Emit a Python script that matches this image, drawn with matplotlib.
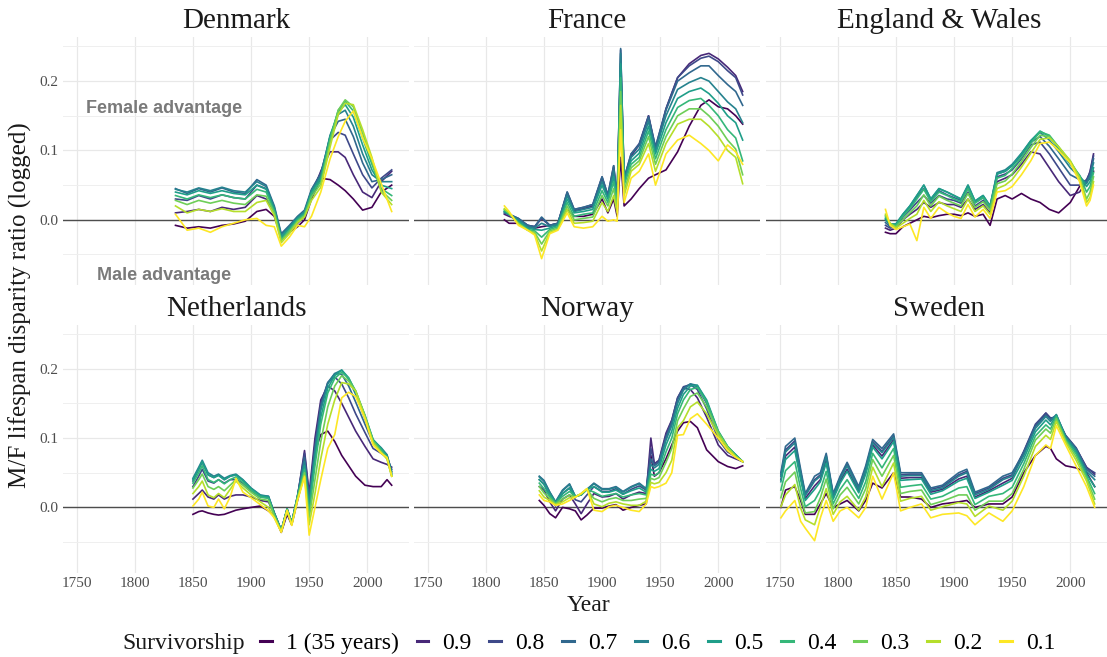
import numpy as np
import matplotlib.pyplot as plt
from matplotlib.lines import Line2D

plt.rcParams['font.family'] = ['Liberation Serif', 'DejaVu Serif']

surv_labels = ['1 (35 years)', '0.9', '0.8', '0.7', '0.6', '0.5', '0.4', '0.3', '0.2', '0.1']
countries = ['Denmark', 'France', 'England & Wales', 'Netherlands', 'Norway', 'Sweden']

# rows follow surv_labels: 1, 0.9, ..., 0.1
dk_years = [1835, 1845, 1855, 1865, 1875, 1885, 1895, 1905, 1913, 1920, 1926, 1933,
            1940, 1946, 1952, 1960, 1968, 1975, 1981, 1988, 1996, 2004, 2012, 2021]
dk_vals = [
    [-0.008, -0.012, -0.010, -0.012, -0.008, -0.006, -0.002, 0.012, 0.015, 0.005, -0.025, -0.018, -0.010, 0.000, 0.030, 0.060, 0.058, 0.050, 0.042, 0.030, 0.014, 0.018, 0.040, 0.050],
    [0.010, 0.012, 0.015, 0.012, 0.018, 0.015, 0.018, 0.035, 0.030, 0.012, -0.028, -0.018, -0.005, 0.005, 0.035, 0.070, 0.098, 0.098, 0.090, 0.065, 0.040, 0.032, 0.055, 0.070],
    [0.030, 0.028, 0.035, 0.030, 0.036, 0.032, 0.030, 0.050, 0.045, 0.016, -0.025, -0.012, 0.002, 0.010, 0.042, 0.068, 0.115, 0.126, 0.122, 0.095, 0.065, 0.046, 0.060, 0.072],
    [0.045, 0.038, 0.045, 0.040, 0.046, 0.040, 0.038, 0.058, 0.050, 0.020, -0.020, -0.008, 0.005, 0.014, 0.044, 0.066, 0.120, 0.142, 0.145, 0.120, 0.082, 0.055, 0.058, 0.065],
    [0.044, 0.040, 0.046, 0.042, 0.047, 0.042, 0.040, 0.055, 0.048, 0.018, -0.022, -0.010, 0.004, 0.012, 0.042, 0.063, 0.122, 0.152, 0.158, 0.135, 0.095, 0.065, 0.055, 0.055],
    [0.040, 0.036, 0.042, 0.038, 0.042, 0.038, 0.036, 0.050, 0.044, 0.015, -0.025, -0.012, 0.002, 0.010, 0.040, 0.060, 0.120, 0.156, 0.166, 0.148, 0.108, 0.072, 0.050, 0.045],
    [0.035, 0.030, 0.036, 0.032, 0.036, 0.032, 0.030, 0.044, 0.040, 0.012, -0.028, -0.015, 0.000, 0.008, 0.037, 0.056, 0.117, 0.158, 0.171, 0.157, 0.118, 0.080, 0.045, 0.035],
    [0.028, 0.022, 0.028, 0.024, 0.028, 0.024, 0.022, 0.036, 0.034, 0.010, -0.030, -0.017, -0.002, 0.006, 0.033, 0.052, 0.112, 0.158, 0.173, 0.163, 0.125, 0.085, 0.042, 0.028],
    [0.020, 0.010, 0.015, 0.012, 0.016, 0.012, 0.012, 0.025, 0.028, 0.006, -0.033, -0.020, -0.004, 0.004, 0.028, 0.047, 0.105, 0.152, 0.168, 0.166, 0.130, 0.090, 0.040, 0.022],
    [0.008, -0.015, -0.012, -0.018, -0.010, -0.005, 0.000, 0.002, -0.008, -0.010, -0.038, -0.025, -0.008, -0.010, 0.005, 0.040, 0.088, 0.120, 0.142, 0.157, 0.118, 0.088, 0.052, 0.012],
]

fr_years = [1816, 1820, 1828, 1836, 1842, 1848, 1855, 1862, 1870, 1876, 1884, 1892, 1900, 1905, 1910, 1913,
            1916, 1919, 1925, 1932, 1940, 1946, 1955, 1965, 1975, 1985, 1992, 2000, 2008, 2015, 2021]
fr_vals = [
    [0.000, -0.005, -0.005, -0.010, -0.012, -0.010, -0.008, -0.008, 0.015, 0.005, 0.005, 0.008, 0.030, 0.010, 0.030, 0.005, 0.090, 0.020, 0.030, 0.045, 0.060, 0.065, 0.072, 0.098, 0.135, 0.165, 0.173, 0.163, 0.160, 0.150, 0.138],
    [0.008, 0.005, 0.000, -0.008, -0.010, 0.002, -0.008, -0.005, 0.038, 0.013, 0.016, 0.020, 0.060, 0.032, 0.075, 0.028, 0.225, 0.055, 0.092, 0.108, 0.150, 0.100, 0.160, 0.205, 0.225, 0.237, 0.240, 0.232, 0.220, 0.208, 0.185],
    [0.010, 0.008, 0.002, -0.008, -0.010, 0.003, -0.008, -0.005, 0.040, 0.015, 0.018, 0.022, 0.062, 0.035, 0.078, 0.030, 0.245, 0.060, 0.095, 0.110, 0.150, 0.105, 0.160, 0.205, 0.222, 0.233, 0.236, 0.228, 0.215, 0.205, 0.180],
    [0.010, 0.008, 0.002, -0.008, -0.010, 0.004, -0.008, -0.005, 0.040, 0.015, 0.018, 0.022, 0.062, 0.036, 0.078, 0.030, 0.247, 0.060, 0.095, 0.108, 0.148, 0.105, 0.158, 0.200, 0.212, 0.222, 0.222, 0.208, 0.195, 0.185, 0.165],
    [0.012, 0.008, 0.000, -0.010, -0.012, -0.005, -0.010, -0.006, 0.035, 0.012, 0.015, 0.018, 0.055, 0.032, 0.070, 0.028, 0.240, 0.058, 0.090, 0.102, 0.142, 0.100, 0.150, 0.188, 0.198, 0.205, 0.200, 0.185, 0.170, 0.160, 0.140],
    [0.012, 0.008, -0.002, -0.012, -0.014, -0.015, -0.012, -0.008, 0.030, 0.010, 0.012, 0.015, 0.050, 0.030, 0.062, 0.025, 0.225, 0.055, 0.085, 0.096, 0.135, 0.095, 0.140, 0.175, 0.185, 0.190, 0.182, 0.168, 0.150, 0.140, 0.115],
    [0.014, 0.008, -0.004, -0.014, -0.016, -0.025, -0.014, -0.010, 0.025, 0.005, 0.008, 0.010, 0.042, 0.025, 0.055, 0.020, 0.205, 0.050, 0.080, 0.090, 0.128, 0.088, 0.130, 0.162, 0.172, 0.175, 0.165, 0.150, 0.130, 0.118, 0.085],
    [0.015, 0.010, -0.005, -0.015, -0.018, -0.035, -0.016, -0.012, 0.020, 0.000, 0.002, 0.004, 0.035, 0.020, 0.045, 0.015, 0.185, 0.042, 0.075, 0.085, 0.120, 0.080, 0.120, 0.150, 0.160, 0.160, 0.150, 0.135, 0.115, 0.102, 0.065],
    [0.016, 0.010, -0.006, -0.015, -0.020, -0.045, -0.018, -0.014, 0.015, -0.005, -0.004, -0.002, 0.025, 0.012, 0.035, 0.010, 0.165, 0.035, 0.070, 0.080, 0.110, 0.070, 0.110, 0.138, 0.145, 0.145, 0.135, 0.120, 0.100, 0.090, 0.052],
    [0.020, 0.012, -0.008, -0.015, -0.022, -0.056, -0.020, -0.015, 0.010, -0.010, -0.012, -0.010, 0.005, -0.002, 0.000, -0.002, 0.130, 0.025, 0.060, 0.070, 0.095, 0.050, 0.095, 0.115, 0.122, 0.110, 0.100, 0.085, 0.108, 0.098, 0.080],
]

ew_years = [1841, 1845, 1850, 1856, 1862, 1868, 1874, 1880, 1887, 1894, 1900, 1906, 1912, 1918, 1925,
            1931, 1937, 1944, 1950, 1958, 1966, 1974, 1982, 1990, 2000, 2008, 2014, 2017, 2020]
ew_vals = [
    [-0.018, -0.020, -0.020, -0.010, -0.005, 0.000, 0.005, 0.003, 0.006, 0.008, 0.008, 0.006, 0.010, 0.005, 0.008, -0.008, 0.030, 0.035, 0.030, 0.038, 0.030, 0.025, 0.015, 0.010, 0.025, 0.048, 0.055, 0.060, 0.070],
    [-0.012, -0.015, -0.012, 0.000, 0.008, 0.015, 0.025, 0.018, 0.025, 0.022, 0.022, 0.018, 0.030, 0.015, 0.022, 0.010, 0.055, 0.060, 0.065, 0.080, 0.098, 0.095, 0.075, 0.055, 0.035, 0.040, 0.055, 0.070, 0.095],
    [-0.008, -0.012, -0.010, 0.004, 0.014, 0.025, 0.035, 0.024, 0.035, 0.030, 0.028, 0.024, 0.040, 0.020, 0.028, 0.015, 0.062, 0.066, 0.072, 0.088, 0.108, 0.112, 0.095, 0.075, 0.050, 0.050, 0.058, 0.068, 0.092],
    [-0.004, -0.010, -0.008, 0.006, 0.018, 0.032, 0.045, 0.028, 0.042, 0.036, 0.032, 0.028, 0.046, 0.025, 0.032, 0.018, 0.066, 0.070, 0.078, 0.093, 0.112, 0.120, 0.106, 0.088, 0.065, 0.058, 0.055, 0.065, 0.088],
    [0.000, -0.008, -0.006, 0.008, 0.020, 0.035, 0.050, 0.030, 0.045, 0.040, 0.035, 0.030, 0.050, 0.027, 0.035, 0.020, 0.068, 0.072, 0.080, 0.096, 0.114, 0.126, 0.115, 0.098, 0.075, 0.062, 0.052, 0.062, 0.082],
    [0.002, -0.006, -0.006, 0.008, 0.020, 0.035, 0.050, 0.030, 0.045, 0.040, 0.035, 0.030, 0.050, 0.027, 0.035, 0.020, 0.066, 0.070, 0.078, 0.095, 0.114, 0.128, 0.120, 0.102, 0.080, 0.064, 0.048, 0.055, 0.075],
    [0.004, -0.006, -0.008, 0.005, 0.016, 0.030, 0.044, 0.026, 0.040, 0.035, 0.030, 0.026, 0.045, 0.024, 0.032, 0.018, 0.060, 0.064, 0.074, 0.090, 0.110, 0.127, 0.122, 0.105, 0.083, 0.064, 0.040, 0.048, 0.068],
    [0.006, -0.006, -0.010, 0.000, 0.010, 0.020, 0.036, 0.020, 0.034, 0.028, 0.024, 0.020, 0.038, 0.018, 0.026, 0.014, 0.052, 0.056, 0.066, 0.084, 0.104, 0.122, 0.120, 0.105, 0.085, 0.062, 0.030, 0.040, 0.062],
    [0.008, -0.005, -0.012, -0.005, 0.002, 0.008, 0.028, 0.012, 0.026, 0.020, 0.016, 0.012, 0.030, 0.012, 0.020, 0.008, 0.045, 0.050, 0.058, 0.076, 0.096, 0.116, 0.118, 0.105, 0.085, 0.060, 0.025, 0.032, 0.055],
    [0.015, -0.008, -0.014, -0.010, -0.006, -0.030, 0.018, 0.002, 0.018, 0.010, 0.005, 0.002, 0.022, 0.004, 0.015, 0.002, 0.040, 0.042, 0.048, 0.065, 0.085, 0.110, 0.112, 0.100, 0.082, 0.055, 0.020, 0.028, 0.050],
]

nl_years = [1850, 1855, 1858, 1863, 1868, 1872, 1877, 1882, 1887, 1893, 1900, 1908, 1915, 1920, 1926, 1931,
            1935, 1940, 1946, 1950, 1955, 1960, 1966, 1972, 1978, 1984, 1990, 1998, 2005, 2012, 2017, 2021]
nl_vals = [
    [-0.010, -0.006, -0.005, -0.008, -0.010, -0.011, -0.010, -0.007, -0.004, -0.002, 0.000, 0.002, -0.005, -0.012, -0.036, -0.010, -0.025, 0.010, 0.050, 0.005, 0.080, 0.105, 0.110, 0.095, 0.075, 0.060, 0.045, 0.032, 0.030, 0.030, 0.040, 0.032],
    [0.012, 0.020, 0.025, 0.015, 0.012, 0.018, 0.012, 0.016, 0.018, 0.018, 0.015, 0.010, 0.008, -0.010, -0.034, -0.004, -0.023, 0.015, 0.082, 0.020, 0.100, 0.155, 0.175, 0.168, 0.150, 0.130, 0.110, 0.088, 0.070, 0.065, 0.062, 0.058],
    [0.030, 0.045, 0.055, 0.038, 0.035, 0.040, 0.035, 0.040, 0.040, 0.035, 0.024, 0.015, 0.014, -0.008, -0.033, -0.003, -0.022, 0.016, 0.078, 0.015, 0.090, 0.150, 0.180, 0.188, 0.178, 0.158, 0.135, 0.108, 0.085, 0.078, 0.072, 0.055],
    [0.038, 0.055, 0.065, 0.047, 0.043, 0.047, 0.040, 0.045, 0.047, 0.039, 0.027, 0.017, 0.016, -0.008, -0.033, -0.002, -0.022, 0.017, 0.072, 0.010, 0.085, 0.145, 0.180, 0.193, 0.192, 0.175, 0.152, 0.120, 0.093, 0.084, 0.075, 0.052],
    [0.042, 0.058, 0.068, 0.050, 0.045, 0.048, 0.042, 0.046, 0.048, 0.040, 0.028, 0.018, 0.016, -0.008, -0.033, -0.002, -0.022, 0.017, 0.066, 0.005, 0.080, 0.140, 0.178, 0.193, 0.198, 0.185, 0.163, 0.128, 0.097, 0.086, 0.076, 0.050],
    [0.040, 0.055, 0.066, 0.047, 0.043, 0.046, 0.040, 0.045, 0.047, 0.039, 0.027, 0.017, 0.015, -0.009, -0.033, -0.002, -0.022, 0.016, 0.060, 0.000, 0.070, 0.130, 0.172, 0.190, 0.198, 0.187, 0.166, 0.132, 0.098, 0.085, 0.074, 0.048],
    [0.035, 0.050, 0.060, 0.040, 0.036, 0.040, 0.034, 0.040, 0.044, 0.036, 0.025, 0.015, 0.013, -0.010, -0.034, -0.003, -0.023, 0.015, 0.055, -0.008, 0.060, 0.120, 0.165, 0.186, 0.195, 0.186, 0.168, 0.133, 0.097, 0.083, 0.072, 0.046],
    [0.028, 0.040, 0.048, 0.030, 0.026, 0.030, 0.024, 0.032, 0.040, 0.032, 0.022, 0.012, 0.010, -0.012, -0.034, -0.004, -0.024, 0.014, 0.050, -0.015, 0.040, 0.095, 0.145, 0.175, 0.190, 0.182, 0.168, 0.132, 0.095, 0.080, 0.070, 0.045],
    [0.020, 0.030, 0.038, 0.018, 0.014, 0.020, 0.014, 0.026, 0.038, 0.028, 0.018, 0.008, 0.000, -0.015, -0.035, -0.005, -0.025, 0.012, 0.046, -0.025, 0.020, 0.070, 0.120, 0.155, 0.180, 0.178, 0.168, 0.130, 0.093, 0.079, 0.070, 0.045],
    [0.002, 0.012, 0.022, 0.002, 0.000, 0.012, -0.002, 0.015, 0.042, 0.022, 0.014, 0.004, -0.005, -0.015, -0.036, -0.004, -0.026, 0.010, 0.044, -0.040, 0.000, 0.040, 0.085, 0.105, 0.158, 0.166, 0.160, 0.128, 0.090, 0.078, 0.072, 0.045],
]

no_years = [1846, 1850, 1855, 1860, 1866, 1872, 1877, 1882, 1887, 1893, 1900, 1906, 1912, 1918, 1925, 1932,
            1938, 1942, 1945, 1949, 1955, 1960, 1965, 1970, 1976, 1982, 1990, 2000, 2008, 2015, 2021]
no_vals = [
    [0.010, 0.003, -0.009, -0.015, 0.000, -0.002, -0.005, -0.018, -0.011, -0.001, -0.001, 0.002, 0.004, -0.004, 0.000, 0.003, 0.005, 0.075, 0.045, 0.050, 0.070, 0.090, 0.110, 0.122, 0.124, 0.115, 0.083, 0.066, 0.059, 0.056, 0.060],
    [0.030, 0.025, 0.008, -0.005, 0.012, 0.018, 0.005, -0.009, 0.005, 0.020, 0.015, 0.016, 0.020, 0.012, 0.018, 0.022, 0.020, 0.100, 0.063, 0.068, 0.107, 0.126, 0.158, 0.172, 0.170, 0.158, 0.130, 0.090, 0.075, 0.070, 0.066],
    [0.040, 0.034, 0.016, 0.002, 0.020, 0.028, 0.011, 0.008, 0.018, 0.030, 0.023, 0.023, 0.027, 0.019, 0.026, 0.031, 0.025, 0.085, 0.062, 0.067, 0.104, 0.125, 0.158, 0.174, 0.177, 0.170, 0.142, 0.098, 0.080, 0.073, 0.066],
    [0.045, 0.039, 0.022, 0.008, 0.025, 0.034, 0.016, 0.018, 0.026, 0.035, 0.027, 0.027, 0.030, 0.023, 0.030, 0.035, 0.027, 0.070, 0.060, 0.065, 0.100, 0.122, 0.155, 0.172, 0.178, 0.174, 0.150, 0.105, 0.085, 0.075, 0.066],
    [0.044, 0.038, 0.022, 0.008, 0.024, 0.033, 0.016, 0.018, 0.026, 0.034, 0.026, 0.026, 0.029, 0.022, 0.029, 0.034, 0.026, 0.062, 0.057, 0.062, 0.097, 0.118, 0.150, 0.169, 0.178, 0.176, 0.153, 0.108, 0.087, 0.076, 0.066],
    [0.040, 0.033, 0.019, 0.007, 0.020, 0.028, 0.016, 0.018, 0.026, 0.030, 0.022, 0.022, 0.025, 0.019, 0.024, 0.028, 0.022, 0.055, 0.052, 0.056, 0.090, 0.110, 0.143, 0.163, 0.175, 0.176, 0.155, 0.110, 0.088, 0.076, 0.066],
    [0.035, 0.027, 0.016, 0.006, 0.016, 0.023, 0.016, 0.019, 0.026, 0.022, 0.016, 0.018, 0.020, 0.015, 0.018, 0.020, 0.018, 0.048, 0.046, 0.050, 0.080, 0.100, 0.135, 0.155, 0.170, 0.173, 0.152, 0.110, 0.088, 0.075, 0.066],
    [0.030, 0.021, 0.013, 0.005, 0.012, 0.018, 0.015, 0.019, 0.026, 0.013, 0.008, 0.012, 0.014, 0.010, 0.010, 0.012, 0.013, 0.042, 0.040, 0.043, 0.065, 0.085, 0.125, 0.142, 0.160, 0.165, 0.145, 0.108, 0.087, 0.074, 0.066],
    [0.024, 0.015, 0.010, 0.004, 0.008, 0.014, 0.015, 0.020, 0.027, 0.005, 0.001, 0.006, 0.008, 0.005, 0.003, 0.003, 0.009, 0.036, 0.034, 0.036, 0.050, 0.068, 0.115, 0.125, 0.145, 0.152, 0.135, 0.104, 0.086, 0.073, 0.066],
    [0.018, 0.010, 0.008, 0.003, 0.005, 0.010, 0.015, 0.020, 0.027, -0.004, -0.006, 0.001, 0.003, 0.000, -0.004, -0.006, 0.005, 0.030, 0.028, 0.030, 0.035, 0.050, 0.104, 0.105, 0.128, 0.135, 0.120, 0.100, 0.082, 0.072, 0.066],
]

se_years = [1751, 1755, 1763, 1768, 1772, 1780, 1785, 1790, 1796, 1802, 1808, 1818, 1824, 1830, 1838, 1848, 1854, 1862,
            1872, 1880, 1890, 1904, 1911, 1918, 1930, 1942, 1950, 1960, 1970, 1979, 1983, 1988, 1996, 2005, 2014, 2021]
se_vals = [
    [0.000, 0.025, 0.030, 0.010, -0.010, -0.010, 0.005, 0.020, 0.000, 0.005, 0.010, -0.005, 0.010, 0.035, 0.028, 0.050, 0.015, 0.015, 0.012, 0.000, 0.005, 0.008, 0.010, 0.000, 0.005, 0.005, 0.015, 0.050, 0.075, 0.088, 0.085, 0.070, 0.060, 0.057, 0.050, 0.030],
    [0.040, 0.074, 0.087, 0.044, 0.013, 0.031, 0.040, 0.068, 0.014, 0.038, 0.055, 0.023, 0.051, 0.090, 0.074, 0.098, 0.042, 0.043, 0.043, 0.022, 0.026, 0.041, 0.045, 0.015, 0.024, 0.035, 0.042, 0.080, 0.118, 0.136, 0.128, 0.125, 0.103, 0.085, 0.058, 0.048],
    [0.047, 0.083, 0.096, 0.051, 0.018, 0.040, 0.047, 0.075, 0.018, 0.043, 0.062, 0.028, 0.057, 0.095, 0.081, 0.103, 0.047, 0.048, 0.048, 0.026, 0.030, 0.047, 0.052, 0.020, 0.028, 0.042, 0.047, 0.081, 0.120, 0.136, 0.129, 0.130, 0.104, 0.086, 0.057, 0.050],
    [0.050, 0.088, 0.100, 0.055, 0.020, 0.045, 0.050, 0.078, 0.020, 0.045, 0.065, 0.030, 0.060, 0.098, 0.085, 0.106, 0.050, 0.050, 0.050, 0.028, 0.032, 0.050, 0.055, 0.022, 0.030, 0.045, 0.050, 0.079, 0.117, 0.133, 0.127, 0.133, 0.103, 0.085, 0.055, 0.045],
    [0.045, 0.080, 0.093, 0.049, 0.017, 0.038, 0.045, 0.073, 0.017, 0.041, 0.060, 0.026, 0.055, 0.093, 0.079, 0.101, 0.045, 0.046, 0.046, 0.024, 0.028, 0.045, 0.050, 0.018, 0.026, 0.040, 0.045, 0.075, 0.114, 0.131, 0.124, 0.134, 0.102, 0.083, 0.052, 0.040],
    [0.037, 0.069, 0.082, 0.040, 0.010, 0.026, 0.037, 0.064, 0.012, 0.035, 0.052, 0.021, 0.048, 0.087, 0.070, 0.095, 0.039, 0.040, 0.041, 0.019, 0.024, 0.038, 0.042, 0.013, 0.022, 0.032, 0.039, 0.070, 0.109, 0.126, 0.119, 0.133, 0.100, 0.080, 0.048, 0.030],
    [0.025, 0.053, 0.066, 0.027, 0.001, 0.010, 0.025, 0.052, 0.005, 0.026, 0.040, 0.013, 0.037, 0.078, 0.057, 0.085, 0.029, 0.031, 0.033, 0.012, 0.016, 0.028, 0.030, 0.004, 0.016, 0.020, 0.029, 0.063, 0.103, 0.119, 0.113, 0.131, 0.098, 0.077, 0.045, 0.020],
    [0.014, 0.037, 0.051, 0.014, -0.008, -0.006, 0.014, 0.041, -0.002, 0.018, 0.029, 0.005, 0.027, 0.069, 0.045, 0.075, 0.020, 0.023, 0.025, 0.004, 0.009, 0.018, 0.018, -0.004, 0.009, 0.009, 0.020, 0.055, 0.097, 0.113, 0.107, 0.128, 0.096, 0.073, 0.042, 0.012],
    [0.001, 0.018, 0.033, -0.001, -0.018, -0.025, 0.001, 0.027, -0.010, 0.008, 0.016, -0.004, 0.015, 0.058, 0.030, 0.064, 0.009, 0.013, 0.016, -0.004, 0.001, 0.007, 0.005, -0.013, 0.002, -0.004, 0.009, 0.045, 0.088, 0.104, 0.098, 0.124, 0.094, 0.068, 0.038, 0.005],
    [-0.015, -0.005, 0.010, -0.020, -0.030, -0.048, -0.015, 0.010, -0.020, -0.005, 0.000, -0.015, 0.000, 0.045, 0.012, 0.050, -0.005, 0.000, 0.005, -0.015, -0.010, -0.008, -0.012, -0.025, -0.008, -0.020, -0.005, 0.030, 0.075, 0.090, 0.085, 0.118, 0.090, 0.060, 0.030, 0.000],
]

panels = [(dk_years, dk_vals), (fr_years, fr_vals), (ew_years, ew_vals),
          (nl_years, nl_vals), (no_years, no_vals), (se_years, se_vals)]

colors = plt.cm.viridis(np.linspace(0, 1, len(surv_labels)))

W, H = 1107, 657
fig = plt.figure(figsize=(W / 100, H / 100), dpi=100)

lefts = [63, 414, 766]
tops = [37, 324.6]
pw, ph = 346, 248
xmin, xmax = 1738.2, 2035.9
ymin, ymax = -0.094, 0.2636

for i, (name, (yrs, vals)) in enumerate(zip(countries, panels)):
    r, c = divmod(i, 3)
    ax = fig.add_axes([lefts[c] / W, 1 - (tops[r] + ph) / H, pw / W, ph / H])
    ax.set_xlim(xmin, xmax)
    ax.set_ylim(ymin, ymax)
    for spine in ax.spines.values():
        spine.set_visible(False)
    ax.set_xticks(range(1750, 2001, 50))
    ax.set_yticks([0.0, 0.1, 0.2])
    ax.set_yticks([-0.05, 0.05, 0.15, 0.25], minor=True)
    ax.grid(which='major', color='#e8e8e8', lw=0.9)
    ax.grid(which='minor', axis='y', color='#efefef', lw=0.7)
    ax.set_axisbelow(True)
    ax.tick_params(which='both', length=0, labelsize=11, labelcolor='#4d4d4d', pad=3)
    ax.yaxis.set_major_formatter(plt.FuncFormatter(lambda v, p: f'{v:.1f}'))
    if c != 0:
        ax.tick_params(labelleft=False)
    if r == 0:
        ax.tick_params(labelbottom=False)
    ax.axhline(0, color='#4d4d4d', lw=1.0, zorder=1.5)
    for k, row in enumerate(vals):
        ax.plot(yrs, row, color=colors[k], lw=1.2, zorder=2 + k * 0.01,
                solid_joinstyle='round')
    ax.set_title(name, fontsize=21, pad=6.5, color='#1a1a1a')
    if name == 'Denmark':
        ax.text(1825.5, 0.16, 'Female advantage', ha='center', va='center', fontsize=13,
                fontweight='bold', family='Liberation Sans', color='#7a7a7a')
        ax.text(1825, -0.08, 'Male advantage', ha='center', va='center', fontsize=13,
                fontweight='bold', family='Liberation Sans', color='#7a7a7a')

fig.text(20 / W, 1 - 305 / H, 'M/F lifespan disparity ratio (logged)', rotation=90,
         ha='center', va='center', fontsize=18, color='#1a1a1a')
fig.text(588 / W, 1 - 611 / H, 'Year', ha='center', va='baseline', fontsize=17, color='#1a1a1a')

fig.text(122 / W, 1 - 643 / H, 'Survivorship', ha='left', va='center', fontsize=17, color='#1a1a1a')
handles = [Line2D([], [], color=col, lw=2.2) for col in colors]
fig.legend(handles, surv_labels, loc='center left', bbox_to_anchor=(260 / W, 1 - 643 / H),
           ncol=10, frameon=False, fontsize=17, handlelength=0.5, handletextpad=0.6,
           columnspacing=0.75, borderpad=0, borderaxespad=0)

fig.savefig('out.png', dpi=100)
